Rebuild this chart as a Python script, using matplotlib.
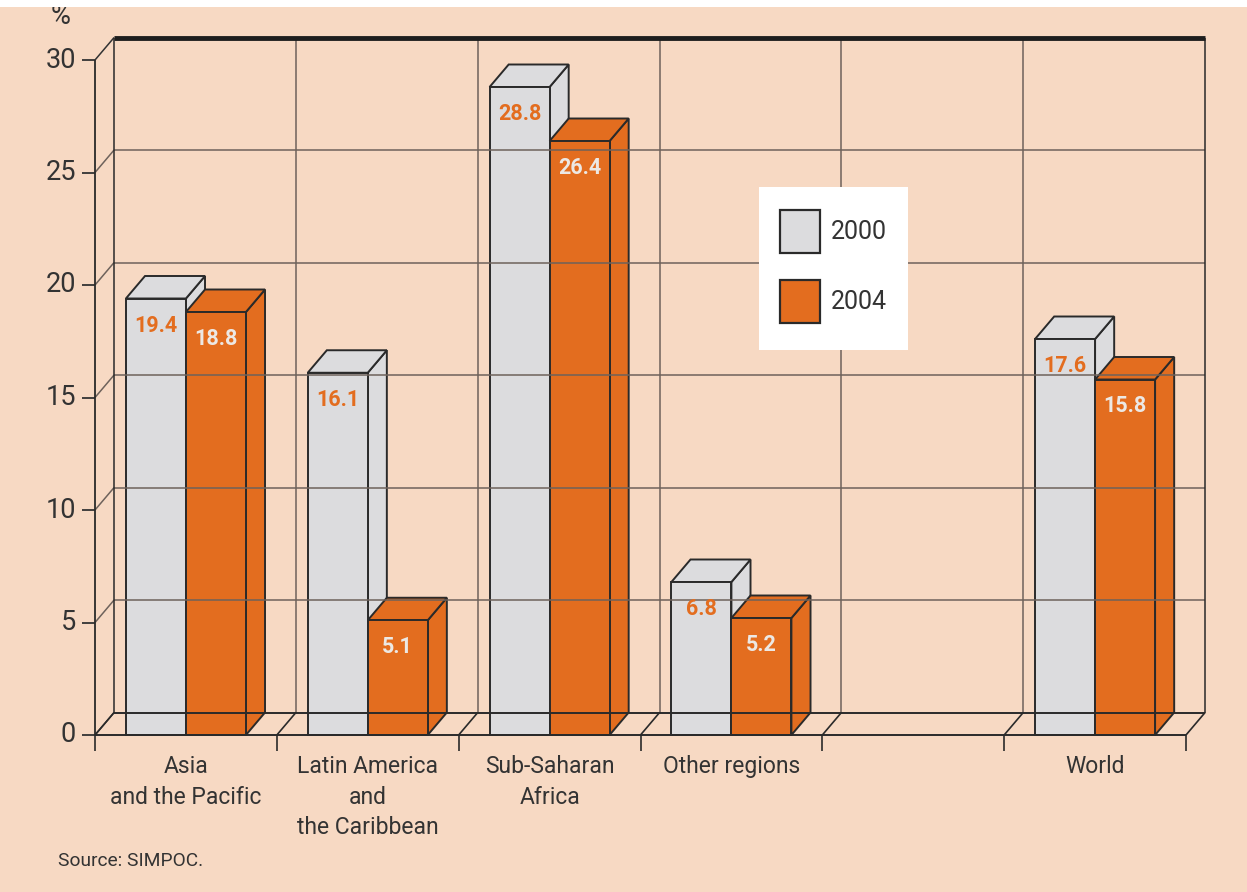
import matplotlib.pyplot as plt
from matplotlib.patches import Polygon, Rectangle

# Data
regions = ['Asia\nand the Pacific', 'Latin America\nand\nthe Caribbean',
           'Sub-Saharan\nAfrica', 'Other regions', '', 'World']
slots = [0, 1, 2, 3, 4, 5]
vals_2000 = [19.4, 16.1, 28.8, 6.8, None, 17.6]
vals_2004 = [18.8, 5.1, 26.4, 5.2, None, 15.8]
years = ['2000', '2004']
y_ticks = [0, 5, 10, 15, 20, 25, 30]

BG = '#F7D9C3'
GREY = '#DCDCDE'
ORANGE = '#E36D1F'
EDGE = '#2a2a2a'
GRID = '#6e625b'
TEXT = '#333333'

plt.rcParams['font.family'] = ['Roboto', 'DejaVu Sans']

W, H = 1247, 892
fig = plt.figure(figsize=(W / 100, H / 100), dpi=100, facecolor=BG)
fig.patches.append(Rectangle((0, 1 - 7 / H), 1, 7 / H, transform=fig.transFigure,
                             facecolor='white', edgecolor='none'))

# axes: x in slot units (0..6), y in percent (0..30)
x0_px, x1_px, y0_px, y1_px = 95, 1186, 735, 60
ax = fig.add_axes([x0_px / W, (H - y0_px) / H, (x1_px - x0_px) / W, (y0_px - y1_px) / H])
ax.set_xlim(0, 6)
ax.set_ylim(0, 30)
ax.axis('off')
ax.set_facecolor('none')

dx, dy = 0.105, 1.0   # depth offset of the 3D box
bw = 0.33             # width of one bar

def line(xs, ys, **kw):
    kw.setdefault('color', GRID)
    kw.setdefault('lw', 1.1)
    ax.plot(xs, ys, clip_on=False, solid_capstyle='butt', **kw)

# back wall grid
for v in y_ticks:
    line([-0.07, 0], [v, v], color=TEXT, lw=1.3)
    line([0, dx], [v, v + dy], color=TEXT if v in (0, 30) else GRID)
    if v not in (0, 30):
        line([dx, 6 + dx], [v + dy, v + dy])
    ax.text(-0.105, v, str(v), ha='right', va='center', fontsize=19.5, color=TEXT)
for k in range(7):
    line([k + dx, k + dx], [dy, 30 + dy], color=EDGE if k in (0, 6) else GRID)
# floor
line([dx, 6 + dx], [dy, dy], color=EDGE, lw=1.4)
line([0, 6], [0, 0], color=EDGE, lw=1.4)
for k in range(7):
    line([k, k + dx], [0, dy], color=EDGE, lw=1.2)
    line([k, k], [0, -0.7], color=EDGE, lw=1.2)
line([0, 0], [0, 30], color=EDGE, lw=1.3)
line([dx, 6 + dx], [30 + dy, 30 + dy], color='#1e1e1e', lw=3.5)

ax.text(-0.19, 31.95, '%', ha='center', va='center', fontsize=19.5, color=TEXT)

def bar3d(x, h, color):
    kw = dict(facecolor=color, edgecolor=EDGE, lw=1.4, clip_on=False, joinstyle='miter')
    ax.add_patch(Polygon([(x + bw, 0), (x + bw + dx, dy), (x + bw + dx, h + dy), (x + bw, h)], **kw))
    ax.add_patch(Polygon([(x, h), (x + dx, h + dy), (x + bw + dx, h + dy), (x + bw, h)], **kw))
    ax.add_patch(Rectangle((x, 0), bw, h, **kw))

for s, a, b in zip(slots, vals_2000, vals_2004):
    if a is None:
        continue
    c = s + 0.5
    bar3d(c - bw, a, GREY)
    bar3d(c, b, ORANGE)
    ax.text(c - bw / 2, a - 1.2, f'{a}', ha='center', va='center', fontsize=15.5,
            fontweight='bold', color=ORANGE)
    ax.text(c + bw / 2, b - 1.2, f'{b}', ha='center', va='center', fontsize=15.5,
            fontweight='bold', color='#ECE8E4')

for s, name in zip(slots, regions):
    ax.text(s + 0.5, -0.9, name, ha='center', va='top', fontsize=16.5,
            color=TEXT, linespacing=1.42)

# legend box
lx, ly = (759 - x0_px) / 181.8, (y0_px - 350) / 22.5
ax.add_patch(Rectangle((lx, ly), 149 / 181.8, 163 / 22.5, facecolor='white',
                       edgecolor='none', clip_on=False, zorder=5))
for i, (yr, col) in enumerate(zip(years, [GREY, ORANGE])):
    top = 210 + i * 70
    ax.add_patch(Rectangle(((780 - x0_px) / 181.8, (y0_px - top - 43) / 22.5),
                           40 / 181.8, 43 / 22.5, facecolor=col, edgecolor=EDGE,
                           lw=1.6, clip_on=False, zorder=6))
    ax.text((831 - x0_px) / 181.8, (y0_px - top - 22) / 22.5, yr, ha='left',
            va='center', fontsize=18, color=TEXT, zorder=7)

fig.text(58 / W, 1 - 861 / H, 'Source: SIMPOC.', ha='left', va='center',
         fontsize=13.8, color=TEXT)

fig.savefig('out.png', dpi=100, facecolor=BG)
